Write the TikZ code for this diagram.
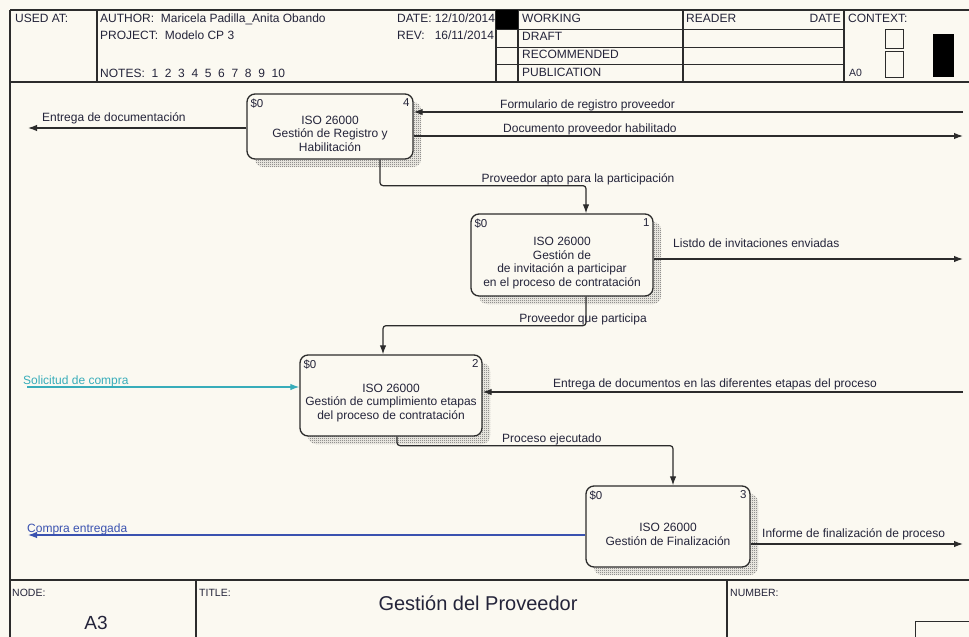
\documentclass[tikz,border=0pt]{standalone}
\usepackage{fontspec}
\setmainfont{Liberation Sans}
\usepackage{xcolor}
\usetikzlibrary{positioning}
\usetikzlibrary{arrows.meta}
\usetikzlibrary{shadows, patterns}

\definecolor{paper}{HTML}{FBF9F1}
\definecolor{ink}{HTML}{24243A}
\definecolor{wire}{HTML}{2C2C2C}
\definecolor{solteal}{HTML}{38ADBA}
\definecolor{entblue}{HTML}{3A52B0}

\pgfdeclarepatternformonly{checker}{\pgfpointorigin}{\pgfpoint{2pt}{2pt}}{\pgfpoint{2pt}{2pt}}{
	\pgfpathrectangle{\pgfpointorigin}{\pgfpoint{1pt}{1pt}}
	\pgfpathrectangle{\pgfpoint{1pt}{1pt}}{\pgfpoint{1pt}{1pt}}
	\pgfusepath{fill}
}

\begin{document}
\begin{tikzpicture}[x=1pt, y=-1pt, >={Latex[length=9pt,width=6.5pt]}, font=\fontsize{12}{13.5}\selectfont, text=ink]
		\tikzstyle{frame}=[draw=wire, line width=1.2pt]
		\tikzstyle{thin}=[draw=wire, line width=0.8pt]
		\tikzstyle{actbox}=[draw=wire, line width=1.3pt, fill=paper, rectangle, rounded corners=8pt, inner sep=0pt,
			general shadow={shadow xshift=8pt, shadow yshift=-8pt, pattern=checker, pattern color=black!65}]
		\tikzstyle{boxtext}=[align=center, inner sep=0pt]
		\tikzstyle{corner}=[inner sep=0pt, font=\fontsize{11.5}{12}\selectfont]
		\tikzstyle{wireA}=[->, draw=wire, line width=1.2pt, rounded corners=3pt]
		\tikzstyle{annot}=[anchor=base west, inner sep=0pt]
		\tikzstyle{hdr}=[anchor=base west, inner sep=0pt]
		\tikzstyle{ftr}=[anchor=base west, inner sep=0pt, font=\fontsize{10.5}{12}\selectfont]
		
		\fill[paper] (0,0) rectangle (969,637);
		\useasboundingbox (0,0) rectangle (969,637);
		
		% header
		\draw[frame] (10,10) -- (969,10);
		\draw[frame] (10,82) -- (969,82);
		\draw[frame] (10,10) -- (10,637);
		\foreach \xv in {97, 496, 518, 683, 844}
			\draw[frame] (\xv,10) -- (\xv,82);
		\foreach \yv in {29, 47, 64}
			\draw[thin] (496,\yv) -- (844,\yv);
		\fill[black] (496,10) rectangle (518,29);
		\draw[thin] (885,29) rectangle (903,48);
		\draw[thin] (885,51) rectangle (903,77);
		\fill[black] (933,34) rectangle (954,77);
		
		\node[hdr] (usedat) at (15,22) {USED AT:};
		\node[hdr] (author) at (100,22) {AUTHOR:\ \ Maricela Padilla\_Anita Obando};
		\node[hdr] (project) at (100,39) {PROJECT:\ \ Modelo CP 3};
		\node[hdr] (notes) at (100,77) {NOTES:\ \ 1\ \ 2\ \ 3\ \ 4\ \ 5\ \ 6\ \ 7\ \ 8\ \ 9\ \ 10};
		\node[hdr] (date) at (397,22) {DATE: 12/10/2014};
		\node[hdr] (rev) at (397,39) {REV:\ \ \ 16/11/2014};
		\node[hdr] (working) at (522,22) {WORKING};
		\node[hdr] (draft) at (522,40) {DRAFT};
		\node[hdr] (recom) at (522,58) {RECOMMENDED};
		\node[hdr] (public) at (522,76) {PUBLICATION};
		\node[hdr] (reader) at (686,22) {READER};
		\node[hdr, anchor=base east] (rdate) at (841,22) {DATE};
		\node[hdr] (context) at (848,22) {CONTEXT:};
		\node[hdr, font=\fontsize{10.5}{12}\selectfont] (azero) at (849,76) {A0};
		
		% activity boxes
		\node[actbox, minimum width=166pt, minimum height=65pt] (a4) at (330,126.5) {};
		\node[actbox, minimum width=182pt, minimum height=82pt] (a1) at (562,255) {};
		\node[actbox, minimum width=182pt, minimum height=81pt] (a2) at (391,395.5) {};
		\node[actbox, minimum width=164pt, minimum height=81pt] (a3) at (668,526.5) {};
		
		\node[boxtext] (a4txt) at ([yshift=-7pt]a4.center) {ISO 26000\\Gestión de Registro y\\Habilitación};
		\node[boxtext] (a1txt) at ([yshift=-8pt]a1.center) {ISO 26000\\Gestión de\\de invitación a participar\\en el proceso de contratación};
		\node[boxtext] (a2txt) at ([yshift=-7.5pt]a2.center) {ISO 26000\\Gestión de cumplimiento etapas\\del proceso de contratación};
		\node[boxtext] (a3txt) at ([yshift=-8pt]a3.center) {ISO 26000\\Gestión de Finalización};
		
		\foreach \bx/\num in {a4/4, a1/1, a2/2, a3/3} {
			\node[corner, anchor=north west] (\bx sl) at ([shift={(4,5)}]\bx.north west) {\$0};
			\node[corner, anchor=north east] (\bx nr) at ([shift={(-4,5)}]\bx.north east) {\num};
		}
		
		% arrows
		\coordinate (docOut) at (28,128);
		\coordinate (formIn) at (963,112);
		\coordinate (docHab) at (963,136);
		\coordinate (listOut) at (963,259);
		\coordinate (solIn) at (27,387);
		\coordinate (etapasIn) at (963,392);
		\coordinate (compraOut) at (28,535);
		\coordinate (informeOut) at (963,544);
		
		\draw[wireA] (a4.west |- docOut) -- (docOut);
		\draw[wireA] (formIn) -- (formIn -| a4.east);
		\draw[wireA] (docHab -| a4.east) -- (docHab);
		\draw[wireA] ([xshift=50pt]a4.south) -- ++(0,26) -| ([xshift=24pt]a1.north);
		\draw[wireA] (listOut -| a1.east) -- (listOut);
		\draw[wireA] ([xshift=24pt]a1.south) -- ++(0,29) -| ([xshift=-8pt]a2.north);
		\draw[wireA, draw=solteal] (solIn) -- (solIn -| a2.west);
		\draw[wireA] (etapasIn) -- (etapasIn -| a2.east);
		\draw[wireA] ([xshift=6pt]a2.south) -- ++(0,9) -| ([xshift=5pt]a3.north);
		\draw[wireA, draw=entblue] (compraOut -| a3.west) -- (compraOut);
		\draw[wireA] (informeOut -| a3.east) -- (informeOut);
		
		\node[annot] (docOutL) at (42,121) {Entrega de documentación};
		\node[annot] (formInL) at (500,108) {Formulario de registro proveedor};
		\node[annot] (docHabL) at (503,132) {Documento proveedor habilitado};
		\node[annot, anchor=base] (aptoL) at (578,182) {Proveedor apto para la participación};
		\node[annot] (listOutL) at (673,247) {Listdo de invitaciones enviadas};
		\node[annot, anchor=base] (partL) at (583,322) {Proveedor que participa};
		\node[annot, text=solteal] (solInL) at (23,384) {Solicitud de compra};
		\node[annot] (etapasInL) at (553,387) {Entrega de documentos en las diferentes etapas del proceso};
		\node[annot] (ejecL) at (502,442) {Proceso ejecutado};
		\node[annot, text=entblue] (compraOutL) at (27,532) {Compra entregada};
		\node[annot] (informeOutL) at (762,537) {Informe de finalización de proceso};
		
		% footer
		\draw[frame] (10,580) -- (969,580);
		\draw[frame] (196,580) -- (196,637);
		\draw[frame] (727,580) -- (727,637);
		\draw[thin] (915,637) -- (915,621) -- (969,621);
		\node[ftr] (nodeL) at (12,596) {NODE:};
		\node[ftr] (titleL) at (199,596) {TITLE:};
		\node[ftr] (numberL) at (730,596) {NUMBER:};
		\node[anchor=base, inner sep=0pt, font=\fontsize{19}{22}\selectfont] (nodeV) at (96,629) {A3};
		\node[anchor=base, inner sep=0pt, font=\fontsize{20}{24}\selectfont] (titleV) at (478,610) {Gestión del Proveedor};
	\end{tikzpicture}
\end{document}
